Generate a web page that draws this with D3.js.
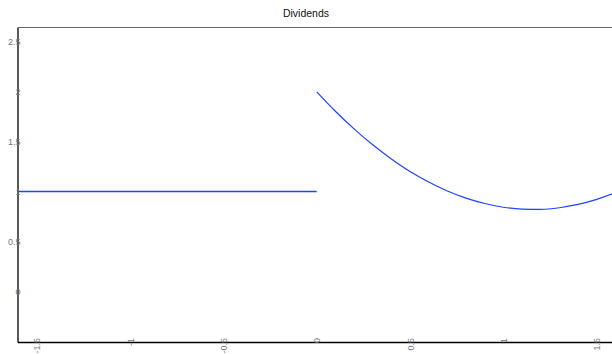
<!DOCTYPE html>
<html>
<head>
<meta charset="utf-8">
<script src="https://cdn.jsdelivr.net/npm/d3@7"></script>
<style>
  body { margin: 0; background: #fff; }
  svg { display: block; font-family: "Liberation Sans", Arial, sans-serif; }
</style>
</head>
<body>
<svg id="chart" width="612" height="354"></svg>
<script>
// values
var title = "Dividends";
var flatX = [-1.603, 0];
var flatY = [1, 1];
var curveX = [0, 0.1, 0.2, 0.3, 0.4, 0.5, 0.6, 0.7, 0.8, 0.9, 1.0, 1.1, 1.2, 1.3, 1.4, 1.5, 1.6];
var curveY = [2.0, 1.805, 1.628, 1.468, 1.326, 1.2, 1.095, 1.005, 0.933, 0.879, 0.842, 0.823, 0.821, 0.837, 0.87, 0.921, 0.989];
var xTicks = [-1.5, -1, -0.5, 0, 0.5, 1, 1.5];
var xTickLabels = ["-1.5", "-1", "-0.5", "0", "0.5", "1", "1.5"];
var yTicks = [0, 0.5, 1, 1.5, 2, 2.5];
var yTickLabels = ["0", "0.5", "1", "1.5", "2", "2.5"];

var svg = d3.select("#chart");
// plot box edges (window.top is reserved, so no "top" here)
var plotLeft = 17.5, plotTop = 27.5, plotRight = 612, plotBottom = 342;

var x = d3.scaleLinear().domain([-1.603, 1.582]).range([plotLeft, plotRight]);
var y = d3.scaleLinear().domain([-0.51, 2.645]).range([plotBottom, plotTop]);

svg.append("text")
  .attr("x", 306).attr("y", 17)
  .attr("text-anchor", "middle")
  .style("font-size", "10.5px")
  .style("fill", "#111")
  .text(title);

svg.append("clipPath").attr("id", "plot")
  .append("rect")
  .attr("x", plotLeft).attr("y", plotTop - 1)
  .attr("width", plotRight - plotLeft).attr("height", plotBottom - plotTop + 1);

// top frame line
svg.append("line")
  .attr("x1", plotLeft).attr("x2", plotRight)
  .attr("y1", plotTop).attr("y2", plotTop)
  .attr("stroke", "#666").attr("stroke-width", 1);

var flat = flatX.map(function(v, i) { return [v, flatY[i]]; });
var curve = curveX.map(function(v, i) { return [v, curveY[i]]; });

var g = svg.append("g").attr("clip-path", "url(#plot)");
g.append("path")
  .datum(flat)
  .attr("d", d3.line()
    .x(function(d) { return x(d[0]); })
    .y(function(d) { return y(d[1]); }))
  .attr("fill", "none")
  .attr("stroke", "#1f44ff")
  .attr("stroke-width", 1.3);
g.append("path")
  .datum(curve)
  .attr("d", d3.line()
    .x(function(d) { return x(d[0]); })
    .y(function(d) { return y(d[1]); })
    .curve(d3.curveMonotoneX))
  .attr("fill", "none")
  .attr("stroke", "#1f44ff")
  .attr("stroke-width", 1.2);

var yAxis = svg.append("g")
  .attr("transform", "translate(" + plotLeft + ",0)")
  .call(d3.axisLeft(y).tickValues(yTicks)
    .tickFormat(function(d, i) { return yTickLabels[i]; })
    .tickSize(0).tickSizeOuter(0).tickPadding(-3));
yAxis.select(".domain").attr("stroke", "#000").attr("stroke-width", 1.3);
yAxis.selectAll("text").style("font-size", "9px").style("fill", "#777");

var xAxis = svg.append("g")
  .attr("transform", "translate(0," + plotBottom + ")")
  .call(d3.axisBottom(x).tickValues(xTicks)
    .tickFormat(function(d, i) { return xTickLabels[i]; })
    .tickSize(0).tickSizeOuter(0));
xAxis.select(".domain").attr("stroke", "#000").attr("stroke-width", 1.3);
xAxis.selectAll("text")
  .attr("transform", "rotate(-90)")
  .attr("x", 4).attr("y", 0).attr("dy", "0.35em")
  .attr("text-anchor", "end")
  .style("font-size", "9px").style("fill", "#777");
</script>
</body>
</html>
